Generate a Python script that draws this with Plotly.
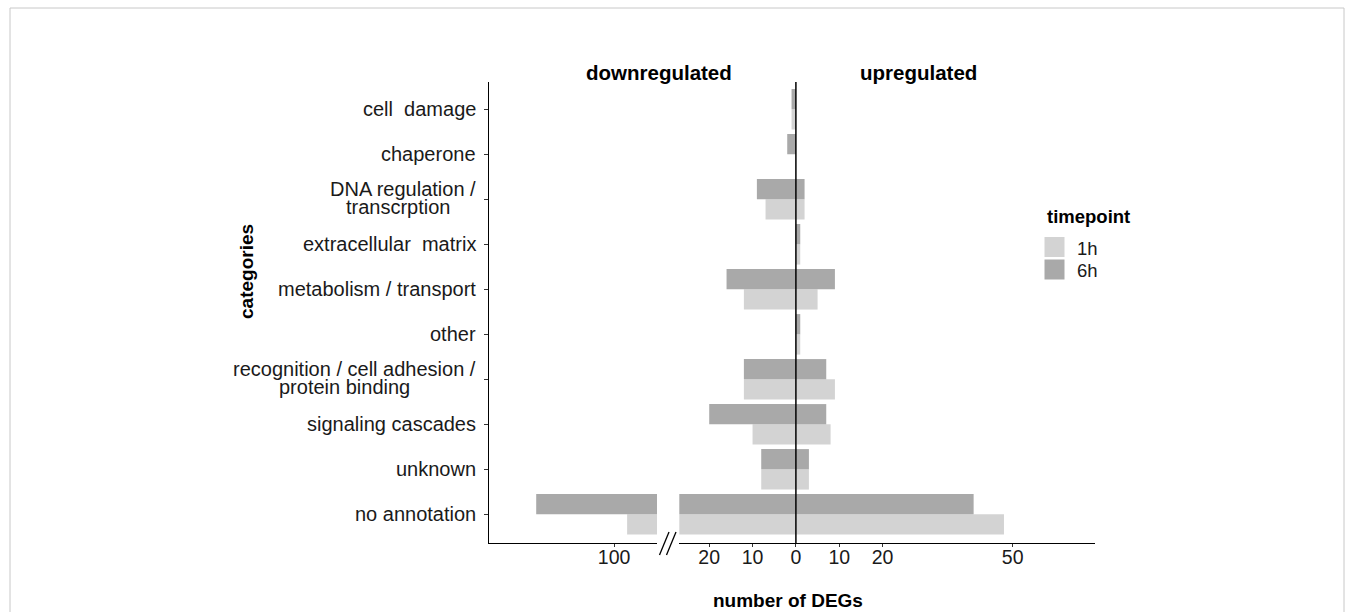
import plotly.graph_objects as go

W, H = 1354, 612

# ---------------- data ----------------
categories = [
    "cell\u00a0 damage",
    "chaperone",
    "DNA regulation /\ntranscrption",
    "extracellular\u00a0 matrix",
    "metabolism / transport",
    "other",
    "recognition / cell adhesion /\nprotein binding",
    "signaling cascades",
    "unknown",
    "no annotation",
]
timepoints = ["1h", "6h"]
down_1h = [1, 0, 7, 0, 12, 0, 12, 10, 8, 97]
down_6h = [1, 2, 9, 0, 16, 0, 12, 20, 8, 118]
up_1h = [0, 0, 2, 1, 5, 1, 9, 8, 3, 48]
up_6h = [0, 0, 2, 1, 9, 1, 7, 7, 3, 41]
left_ticks = [-100]
right_ticks = [-20, -10, 0, 10, 20, 50]

colors = {"1h": "#D3D3D3", "6h": "#A9A9A9"}
FONT = "Liberation Sans, Arial, sans-serif"
TXT = "#1a1a1a"


def px(x):
    return x / W


def py(y):
    return 1 - y / H


series = {"1h": (down_1h, up_1h), "6h": (down_6h, up_6h)}
offsets = {"6h": -0.45, "1h": 0.0}

fig = go.Figure()
for tp in timepoints:
    down, up = series[tp]
    for xa in ["x", "x2"]:
        fig.add_trace(go.Bar(
            y=categories, x=[-v for v in down], orientation="h",
            xaxis=xa, yaxis="y", width=0.45, offset=offsets[tp],
            marker=dict(color=colors[tp], line=dict(width=0)),
            name=tp, showlegend=False, legendgroup=tp,
        ))
        fig.add_trace(go.Bar(
            y=categories, x=up, orientation="h",
            xaxis=xa, yaxis="y", width=0.45, offset=offsets[tp],
            marker=dict(color=colors[tp], line=dict(width=0)),
            name=tp, showlegend=False, legendgroup=tp,
        ))

axis_common = dict(
    showline=True, linecolor="#000000", linewidth=1.2,
    ticks="outside", ticklen=3, tickcolor="#333333", tickwidth=1,
    showgrid=False, zeroline=False, automargin=False,
    tickfont=dict(family=FONT, size=19.5, color=TXT),
    ticklabelstandoff=-7,
    fixedrange=True,
)

fig.update_layout(
    width=W, height=H, autosize=False,
    margin=dict(l=0, r=0, t=0, b=0),
    paper_bgcolor="white", plot_bgcolor="white",
    barmode="overlay", showlegend=False,
    font=dict(family=FONT, color=TXT),
    xaxis=dict(domain=[px(489), px(657)], range=[-128.9, -90.1], anchor="y",
               tickvals=left_ticks, ticktext=[str(abs(v)) for v in left_ticks],
               **axis_common),
    xaxis2=dict(domain=[px(679.3), px(1095)], range=[-26.9, 69.0], anchor="y",
                tickvals=right_ticks, ticktext=[str(abs(v)) for v in right_ticks],
                **axis_common),
    yaxis=dict(domain=[py(543), py(82)], type="category",
               categoryarray=categories, categoryorder="array",
               range=[9.637, -0.607], anchor="x",
               showline=True, linecolor="#000000", linewidth=1.2,
               ticks="outside", ticklen=4, tickcolor="#333333",
               showticklabels=False, showgrid=False, zeroline=False,
               automargin=False, fixedrange=True),
)

shapes = []
# zero line over bars
shapes.append(dict(type="line", xref="x2", yref="y domain", x0=0, x1=0, y0=0, y1=1,
                   line=dict(color="#000000", width=1.5), layer="above"))
# axis break marks
for (x0, x1) in [(659.5, 669.0), (666.5, 676.0)]:
    shapes.append(dict(type="line", xref="paper", yref="paper",
                       x0=px(x0), y0=py(555), x1=px(x1), y1=py(532),
                       line=dict(color="#000000", width=1.3)))
# legend keys
key_y = {"1h": (237, 257), "6h": (259.5, 279.5)}
for tp in timepoints:
    y0, y1 = key_y[tp]
    shapes.append(dict(type="rect", xref="paper", yref="paper",
                       x0=px(1044.5), x1=px(1064.5), y0=py(y1), y1=py(y0),
                       fillcolor=colors[tp], line=dict(width=0)))
# outer frame
shapes.append(dict(type="rect", xref="paper", yref="paper",
                   x0=px(10), x1=px(1344), y0=-0.1, y1=py(8),
                   line=dict(color="#c8c8c8", width=1), fillcolor="rgba(0,0,0,0)"))

annotations = []
CAT_SIZE = 20
RIGHT = 476.5
second_line_center = {2: 398.0, 6: 344.0}
for i, cat in enumerate(categories):
    lines = cat.split("\n")
    if len(lines) == 1:
        annotations.append(dict(text=lines[0], xref="paper", yref="y", x=px(RIGHT), y=i,
                                xanchor="right", yanchor="middle", showarrow=False,
                                borderpad=0,
                                font=dict(family=FONT, size=CAT_SIZE, color=TXT)))
    else:
        annotations.append(dict(text=lines[0], xref="paper", yref="y", x=px(RIGHT), y=i - 0.24,
                                xanchor="right", yanchor="middle", showarrow=False,
                                borderpad=0,
                                font=dict(family=FONT, size=CAT_SIZE, color=TXT)))
        annotations.append(dict(text=lines[1], xref="paper", yref="y",
                                x=px(second_line_center[i]), y=i + 0.165,
                                xanchor="center", yanchor="middle", showarrow=False,
                                borderpad=0,
                                font=dict(family=FONT, size=CAT_SIZE, color=TXT)))

annotations += [
    dict(text="<b>downregulated</b>", xref="paper", yref="paper", x=px(659), y=py(72),
         xanchor="center", yanchor="middle", showarrow=False,
         font=dict(family=FONT, size=20.5, color="#000000")),
    dict(text="<b>upregulated</b>", xref="paper", yref="paper", x=px(918), y=py(72),
         xanchor="center", yanchor="middle", showarrow=False,
         font=dict(family=FONT, size=20.5, color="#000000")),
    dict(text="<b>categories</b>", xref="paper", yref="paper", x=px(246), y=py(272),
         xanchor="center", yanchor="middle", textangle=-90, showarrow=False,
         font=dict(family=FONT, size=19, color="#000000")),
    dict(text="<b>number of DEGs</b>", xref="paper", yref="paper", x=px(788), y=py(600),
         xanchor="center", yanchor="middle", showarrow=False, borderpad=0,
         font=dict(family=FONT, size=19, color="#000000")),
    dict(text="<b>timepoint</b>", xref="paper", yref="paper", x=px(1045), y=py(216.7),
         xanchor="left", yanchor="middle", showarrow=False,
         font=dict(family=FONT, size=18.5, color="#000000")),
]
label_y = {"1h": 248, "6h": 270}
for tp in timepoints:
    annotations.append(dict(text=tp, xref="paper", yref="paper", x=px(1075), y=py(label_y[tp]),
                            xanchor="left", yanchor="middle", showarrow=False,
                            font=dict(family=FONT, size=18.5, color=TXT)))

fig.update_layout(shapes=shapes, annotations=annotations)
fig.write_html("out.html")
